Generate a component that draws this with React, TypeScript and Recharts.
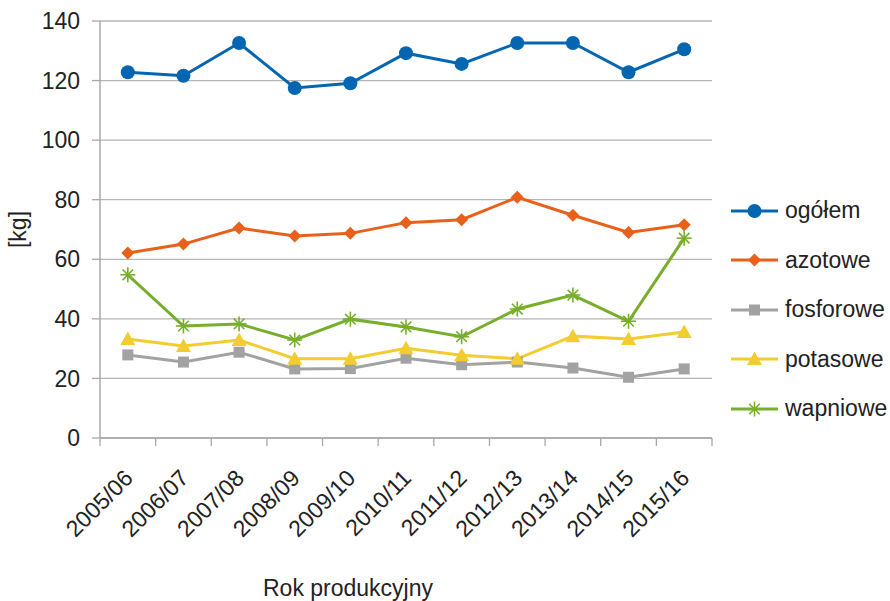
import React from "react";
import {
  LineChart,
  Line,
  XAxis,
  YAxis,
  CartesianGrid,
  Label,
} from "recharts";

const lata = [
  "2005/06",
  "2006/07",
  "2007/08",
  "2008/09",
  "2009/10",
  "2010/11",
  "2011/12",
  "2012/13",
  "2013/14",
  "2014/15",
  "2015/16",
];

const ogolem = [122.8, 121.6, 132.6, 117.5, 119.1, 129.2, 125.6, 132.6, 132.6, 122.8, 130.5];
const azotowe = [62.1, 65.1, 70.5, 67.8, 68.7, 72.3, 73.3, 80.8, 74.8, 69.0, 71.6];
const fosforowe = [27.9, 25.5, 28.8, 23.2, 23.3, 26.8, 24.6, 25.5, 23.5, 20.4, 23.2];
const potasowe = [33.2, 30.9, 32.9, 26.6, 26.6, 30.1, 27.8, 26.6, 34.2, 33.2, 35.6];
const wapniowe = [54.8, 37.6, 38.3, 32.9, 39.9, 37.3, 34.0, 43.3, 48.0, 39.2, 67.1];

const yTicks = [0, 20, 40, 60, 80, 100, 120, 140];
const xTicks = [0, 1, 2, 3, 4, 5, 6, 7, 8, 9, 10, 11];

const data = lata.map((rok, i) => ({
  x: i + 0.5,
  rok,
  ogolem: ogolem[i],
  azotowe: azotowe[i],
  fosforowe: fosforowe[i],
  potasowe: potasowe[i],
  wapniowe: wapniowe[i],
}));

const FONT = "'Liberation Sans', Arial, sans-serif";
const FS = 23;
const TEXT = "#222";
const AXIS = "#a8a8a8";

const C_BLUE = "#0466b1";
const C_ORANGE = "#e8601a";
const C_GRAY = "#a2a2a2";
const C_YELLOW = "#f2cc30";
const C_GREEN = "#77ae2c";

const PLOT_W = 612;
const HALF_BAND = PLOT_W / 22;

const Circle = ({ cx, cy }: any) => <circle cx={cx} cy={cy} r={7} fill={C_BLUE} />;
const Diamond = ({ cx, cy }: any) => (
  <polygon points={`${cx},${cy - 6.5} ${cx + 6.5},${cy} ${cx},${cy + 6.5} ${cx - 6.5},${cy}`} fill={C_ORANGE} />
);
const Square = ({ cx, cy }: any) => <rect x={cx - 5.5} y={cy - 5.5} width={11} height={11} fill={C_GRAY} />;
const Triangle = ({ cx, cy }: any) => (
  <polygon points={`${cx},${cy - 7.5} ${cx + 7.5},${cy + 6} ${cx - 7.5},${cy + 6}`} fill={C_YELLOW} />
);
const Star = ({ cx, cy }: any) => {
  const r = 7.5;
  const d = r * 0.707;
  return (
    <g stroke={C_GREEN} strokeWidth={1.6}>
      <line x1={cx} y1={cy - r} x2={cx} y2={cy + r} />
      <line x1={cx - r} y1={cy} x2={cx + r} y2={cy} />
      <line x1={cx - d} y1={cy - d} x2={cx + d} y2={cy + d} />
      <line x1={cx - d} y1={cy + d} x2={cx + d} y2={cy - d} />
    </g>
  );
};

const XTick = (props: any) => {
  const { x, y, payload } = props;
  const i = payload.value;
  if (i >= lata.length) return null;
  const ax = x + HALF_BAND - 5;
  const ay = y + 20;
  return (
    <text
      x={ax}
      y={ay}
      textAnchor="end"
      dy="0.71em"
      transform={`rotate(-45, ${ax}, ${ay})`}
      fontSize={FS}
      fontFamily={FONT}
      fill={TEXT}
    >
      {lata[i]}
    </text>
  );
};

const series = [
  { key: "ogolem", name: "ogółem", color: C_BLUE, dot: Circle },
  { key: "azotowe", name: "azotowe", color: C_ORANGE, dot: Diamond },
  { key: "fosforowe", name: "fosforowe", color: C_GRAY, dot: Square },
  { key: "potasowe", name: "potasowe", color: C_YELLOW, dot: Triangle },
  { key: "wapniowe", name: "wapniowe", color: C_GREEN, dot: Star },
];

const App: React.FC = () => {
  return (
    <div style={{ position: "absolute", left: 0, top: 0, width: 890, height: 601, background: "#fff" }}>
      <LineChart
        width={890}
        height={601}
        data={data}
        margin={{ top: 21, right: 178, left: 0, bottom: 0 }}
      >
        <CartesianGrid horizontal vertical={false} stroke="#b4b4b4" strokeWidth={1.3} />
        <XAxis
          dataKey="x"
          type="number"
          domain={[0, 11]}
          ticks={xTicks}
          interval={0}
          height={163}
          axisLine={{ stroke: AXIS, strokeWidth: 1.5 }}
          tickLine={{ stroke: AXIS, strokeWidth: 1.3 }}
          tickSize={8}
          tick={<XTick />}
        >
          <Label
            value="Rok produkcyjny"
            position="insideBottom"
            offset={5}
            dx={-58}
            fontSize={FS}
            fontFamily={FONT}
            fill={TEXT}
          />
        </XAxis>
        <YAxis
          domain={[0, 140]}
          ticks={yTicks}
          width={100}
          axisLine={{ stroke: AXIS, strokeWidth: 1.5 }}
          tickLine={{ stroke: AXIS, strokeWidth: 1.3 }}
          tickSize={8}
          tickMargin={12}
          tick={{ fontSize: FS, fontFamily: FONT, fill: TEXT }}
        >
          <Label
            value="[kg]"
            angle={-90}
            position="insideLeft"
            offset={18}
            fontSize={FS}
            fontFamily={FONT}
            fill={TEXT}
            style={{ textAnchor: "middle" }}
          />
        </YAxis>
        {series.map((s) => {
          const D = s.dot;
          return (
            <Line
              key={s.key}
              dataKey={s.key}
              name={s.name}
              stroke={s.color}
              strokeWidth={3}
              dot={(p: any) => <D key={`${s.key}-${p.index}`} cx={p.cx} cy={p.cy} />}
              activeDot={false}
              isAnimationActive={false}
            />
          );
        })}
      </LineChart>
      <div style={{ position: "absolute", left: 731, top: 186, fontFamily: FONT, fontSize: FS, color: TEXT }}>
        {series.map((s) => {
          const D = s.dot;
          return (
            <div key={s.key} style={{ height: 49.5, display: "flex", alignItems: "center" }}>
              <svg width={47} height={20} style={{ marginRight: 7 }}>
                <line x1={0} y1={10} x2={47} y2={10} stroke={s.color} strokeWidth={3} />
                <D cx={23.5} cy={10} />
              </svg>
              <span>{s.name}</span>
            </div>
          );
        })}
      </div>
    </div>
  );
};

export default App;
